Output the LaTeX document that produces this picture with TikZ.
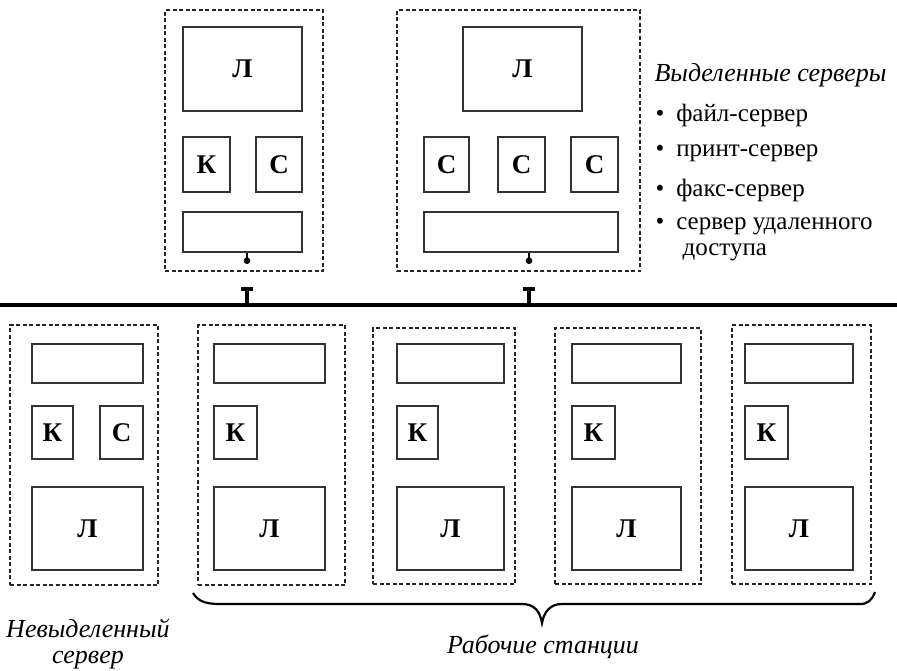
\documentclass[tikz,border=0pt]{standalone}
\usepackage{fontspec}
\setmainfont{Liberation Serif}
\usetikzlibrary{arrows.meta}

\begin{document}
\begin{tikzpicture}[
	x=1pt,
	y=-1pt,
	frame/.style={draw=black!85, line width=1.8pt, dash pattern=on 4pt off 2.5pt, inner sep=0pt},
	part/.style={draw=black!80, line width=1.5pt, inner sep=0pt, font=\fontsize{27}{29}\selectfont\bfseries},
	plug/.style={{Bar[width=12pt, line width=3.5pt]}-, line width=4pt},
	stub/.style={line width=1.3pt, -{Circle[length=6.5pt]}},
	label/.style={font=\fontsize{26}{26}\selectfont\itshape, align=center},
	item/.style={font=\fontsize{25}{28}\selectfont, anchor=west}
	]
	\useasboundingbox (0,0) rectangle (897,670);

	% bus
	\coordinate (busL) at (0,305);
	\coordinate (busR) at (897,305);
	\draw[line width=4.5pt] (busL) -- (busR);

	% dedicated server 1
	\node[frame, minimum width=158, minimum height=261] (srvA) at (244,140.5) {};
	\node[part, minimum width=119, minimum height=84] (srvA-l) at (242.5,69) {Л};
	\node[part, minimum width=47, minimum height=55] (srvA-k) at (206.5,164.5) {К};
	\node[part, minimum width=46, minimum height=55] (srvA-c) at (279,164.5) {С};
	\node[part, minimum width=119, minimum height=40] (srvA-nic) at (242.5,232) {};
	\coordinate (srvA-tap) at (247,264);
	\coordinate (srvA-plug) at (247,287);
	\draw[stub] (srvA-nic.south -| srvA-tap) -- (srvA-tap);
	\draw[plug] (srvA-plug) -- (srvA-plug |- busL);

	% dedicated server 2
	\node[frame, minimum width=243, minimum height=261] (srvB) at (518.5,140.5) {};
	\node[part, minimum width=119, minimum height=84] (srvB-l) at (522.5,69) {Л};
	\node[part, minimum width=45, minimum height=55] (srvB-c1) at (446.5,164.5) {С};
	\node[part, minimum width=47, minimum height=55] (srvB-c2) at (521.5,164.5) {С};
	\node[part, minimum width=47, minimum height=55] (srvB-c3) at (594.5,164.5) {С};
	\node[part, minimum width=194, minimum height=40] (srvB-nic) at (521,232) {};
	\coordinate (srvB-tap) at (529,264);
	\coordinate (srvB-plug) at (529,287);
	\draw[stub] (srvB-nic.south -| srvB-tap) -- (srvB-tap);
	\draw[plug] (srvB-plug) -- (srvB-plug |- busL);

	% legend
	\node[label, anchor=west] (srvHead) at (651,75) {Выделенные серверы};
	\node[item] (srvI1) at (652,115) {\textbullet\hspace{12pt}файл-сервер};
	\node[item] (srvI2) at (652,153) {\textbullet\hspace{12pt}принт-сервер};
	\node[item] (srvI3) at (652,190) {\textbullet\hspace{12pt}факс-сервер};
	\node[item] (srvI4) at (652,226) {\textbullet\hspace{12pt}сервер удаленного};
	\node[item] (srvI5) at (679,252) {доступа};

	% non-dedicated server
	\node[frame, minimum width=148, minimum height=260] (ws0) at (84,455) {};
	\node[part, minimum width=111, minimum height=39] (ws0-nic) at (87.5,363.5) {};
	\node[part, minimum width=41, minimum height=53] (ws0-k) at (52.5,432.5) {К};
	\node[part, minimum width=43, minimum height=53] (ws0-c) at (121.5,432.5) {С};
	\node[part, minimum width=111, minimum height=83] (ws0-l) at (87.5,528.5) {Л};

	% workstations
	\node[frame, minimum width=147, minimum height=260] (ws1) at (271.5,455) {};
	\node[part, minimum width=111, minimum height=39] (ws1-nic) at (269.5,363.5) {};
	\node[part, minimum width=43, minimum height=53] (ws1-k) at (235.5,432.5) {К};
	\node[part, minimum width=111, minimum height=83] (ws1-l) at (269.5,528.5) {Л};

	\node[frame, minimum width=142, minimum height=256] (ws2) at (444,456) {};
	\node[part, minimum width=107, minimum height=39] (ws2-nic) at (450.5,363.5) {};
	\node[part, minimum width=41, minimum height=53] (ws2-k) at (417.5,432.5) {К};
	\node[part, minimum width=107, minimum height=83] (ws2-l) at (450.5,528.5) {Л};

	\node[frame, minimum width=146, minimum height=256] (ws3) at (628,456) {};
	\node[part, minimum width=109, minimum height=39] (ws3-nic) at (626.5,363.5) {};
	\node[part, minimum width=43, minimum height=53] (ws3-k) at (593.5,432.5) {К};
	\node[part, minimum width=109, minimum height=83] (ws3-l) at (626.5,528.5) {Л};

	\node[frame, minimum width=139, minimum height=259] (ws4) at (801.5,454.5) {};
	\node[part, minimum width=108, minimum height=39] (ws4-nic) at (799,363.5) {};
	\node[part, minimum width=43, minimum height=53] (ws4-k) at (766.5,432.5) {К};
	\node[part, minimum width=108, minimum height=83] (ws4-l) at (799,528.5) {Л};

	% brace under the workstations
	\draw[line width=2.2pt] (193,593) .. controls (198,601) and (205,604) .. (220,604) -- (522,604)
		.. controls (535,604) and (540,612) .. (542,623)
		.. controls (544,612) and (550,604) .. (562,604) -- (860,604)
		.. controls (868,604) and (872,600) .. (875,592);

	\node[label] (wsName) at (543,647) {Рабочие станции};
	\node[label] (ws0Name) at (88,644) {Невыделенный\\сервер};
\end{tikzpicture}
\end{document}
